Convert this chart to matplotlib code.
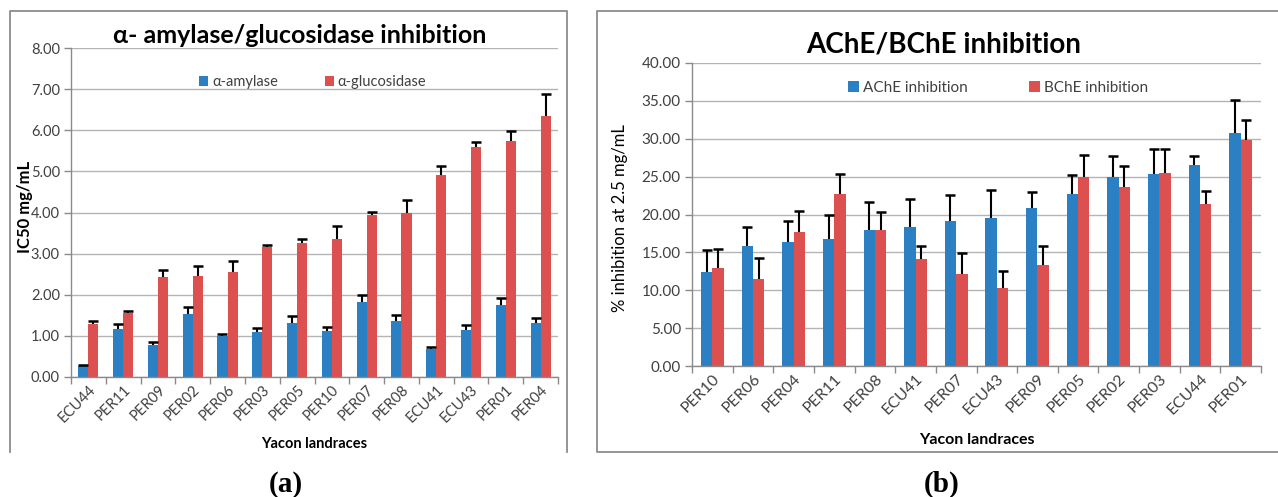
import matplotlib
matplotlib.use("Agg")
import matplotlib.pyplot as plt
import numpy as np
from matplotlib.lines import Line2D

plt.rcParams['font.family'] = ['Lato', 'DejaVu Sans']

# ---- panel (a): alpha-amylase / alpha-glucosidase IC50 ----
cats_a = ["ECU44", "PER11", "PER09", "PER02", "PER06", "PER03", "PER05",
          "PER10", "PER07", "PER08", "ECU41", "ECU43", "PER01", "PER04"]
amylase = [0.27, 1.17, 0.78, 1.53, 1.00, 1.10, 1.32, 1.12, 1.82, 1.37, 0.67, 1.14, 1.76, 1.32]
amylase_err = [0.02, 0.12, 0.08, 0.18, 0.05, 0.10, 0.16, 0.09, 0.17, 0.13, 0.06, 0.13, 0.16, 0.11]
glucosidase = [1.30, 1.55, 2.43, 2.45, 2.55, 3.16, 3.25, 3.35, 3.93, 3.99, 4.90, 5.60, 5.73, 6.35]
glucosidase_err = [0.06, 0.05, 0.18, 0.25, 0.27, 0.04, 0.11, 0.32, 0.09, 0.31, 0.24, 0.11, 0.26, 0.53]

# ---- panel (b): AChE / BChE inhibition ----
cats_b = ["PER10", "PER06", "PER04", "PER11", "PER08", "ECU41", "PER07",
          "ECU43", "PER09", "PER05", "PER02", "PER03", "ECU44", "PER01"]
ache = [12.4, 15.9, 16.4, 16.8, 18.0, 18.3, 19.2, 19.5, 20.9, 22.7, 25.0, 25.4, 26.5, 30.8]
ache_err = [2.9, 2.4, 2.7, 3.1, 3.7, 3.8, 3.4, 3.8, 2.1, 2.5, 2.7, 3.2, 1.2, 4.3]
bche = [13.0, 11.5, 17.7, 22.7, 18.0, 14.1, 12.1, 10.3, 13.3, 25.0, 23.6, 25.5, 21.4, 29.8]
bche_err = [2.5, 2.8, 2.8, 2.7, 2.3, 1.7, 2.8, 2.3, 2.5, 2.8, 2.8, 3.2, 1.7, 2.7]

BLUE = "#2a80c2"
RED = "#dd5050"
GRID = "#b4b4b4"
SPINE = "#8a8a8a"
TXT = "#404040"

W, H = 1278, 497
fig = plt.figure(figsize=(W / 100, H / 100), dpi=100)


def px_axes(left, top, right, bottom):
    return fig.add_axes([left / W, 1 - bottom / H, (right - left) / W, (bottom - top) / H])


def grouped(ax, cats, s1, e1, s2, e2, names, width, xtick_fs, ytick_fs, cap_ms):
    x = np.arange(len(cats))
    b1 = ax.bar(x - width / 2, s1, width, color=BLUE, label=names[0], zorder=2)
    b2 = ax.bar(x + width / 2, s2, width, color=RED, label=names[1], zorder=2)
    for xs, vals, errs in ((x - width / 2, s1, e1), (x + width / 2, s2, e2)):
        vals = np.asarray(vals)
        errs = np.asarray(errs)
        ax.vlines(xs, vals, vals + errs, color="black", lw=1.5, zorder=3)
        ax.plot(xs, vals + errs, ls="none", marker="_", ms=cap_ms, mew=1.8,
                color="black", zorder=3)
    ax.set_xlim(-0.5, len(cats) - 0.5)
    ax.set_xticks(x)
    ax.set_xticklabels(cats, rotation=45, ha="right", rotation_mode="anchor",
                       fontsize=xtick_fs, color=TXT)
    ax.set_xticks(np.arange(len(cats) + 1) - 0.5, minor=True)
    ax.tick_params(axis="x", which="major", length=0, pad=4)
    ax.tick_params(axis="x", which="minor", length=5, width=1, color=SPINE)
    ax.tick_params(axis="y", length=5, width=1, color=SPINE, labelsize=ytick_fs,
                   labelcolor=TXT, pad=3)
    ax.yaxis.set_major_formatter(matplotlib.ticker.FormatStrFormatter("%.2f"))
    ax.grid(axis="y", color=GRID, lw=1.0, zorder=0)
    ax.set_axisbelow(True)
    for s in ("top", "right"):
        ax.spines[s].set_visible(False)
    for s in ("left", "bottom"):
        ax.spines[s].set_color(SPINE)
        ax.spines[s].set_linewidth(1.0)
    return b1, b2


# panel (a)
ax1 = px_axes(71, 48, 558, 377)
grouped(ax1, cats_a, amylase, amylase_err, glucosidase, glucosidase_err,
        ["α-amylase", "α-glucosidase"], 0.29, 10.5, 10.5, 6.5)
ax1.set_ylim(0, 8)
ax1.set_yticks(np.arange(0, 8.01, 1))
ax1.set_xlabel("Yacon landraces", fontsize=10.5, fontweight="bold", color="black")
ax1.xaxis.set_label_coords(0.5, -0.182)
ax1.set_ylabel("IC50 mg/mL", fontsize=12, fontweight="bold", color="black")
ax1.yaxis.set_label_coords(-0.078, 0.517)
ax1.legend(loc="center left", bbox_to_anchor=(199 / W, 1 - 82 / H),
           bbox_transform=fig.transFigure, ncol=2, frameon=False, fontsize=10.5,
           borderpad=0, borderaxespad=0, handlelength=0.65, handleheight=0.65,
           handletextpad=0.25, columnspacing=3.2, labelcolor=TXT)
fig.text(300 / W, 1 - 43 / H, "α- amylase/glucosidase inhibition", ha="center",
         va="baseline", fontsize=18, fontweight="bold", color="black")

# panel (b)
ax2 = px_axes(692, 63, 1261, 366)
grouped(ax2, cats_b, ache, ache_err, bche, bche_err,
        ["AChE inhibition", "BChE inhibition"], 0.28, 11.5, 11, 7)
ax2.set_ylim(0, 40)
ax2.set_yticks(np.arange(0, 40.01, 5))
ax2.set_xlabel("Yacon landraces", fontsize=11.5, fontweight="bold", color="black")
ax2.xaxis.set_label_coords(0.5, -0.221)
ax2.set_ylabel("% inhibition at 2.5 mg/mL", fontsize=12, color="black")
ax2.yaxis.set_label_coords(-0.1125, 0.488)
ax2.legend(loc="center left", bbox_to_anchor=(848 / W, 1 - 88 / H),
           bbox_transform=fig.transFigure, ncol=2, frameon=False, fontsize=11,
           borderpad=0, borderaxespad=0, handlelength=0.72, handleheight=0.72,
           handletextpad=0.25, columnspacing=4.0, labelcolor=TXT)
fig.text(944 / W, 1 - 53 / H, "AChE/BChE inhibition", ha="center",
         va="baseline", fontsize=20, fontweight="bold", color="black")

# panel frames
frame_kw = dict(color="#8c8c8c", lw=1.3, transform=fig.transFigure)
fig.add_artist(Line2D([10 / W, 10 / W, 567 / W, 567 / W],
                      [1 - 452 / H, 1 - 11 / H, 1 - 11 / H, 1 - 452 / H], **frame_kw))
fig.add_artist(Line2D([1.0, 597 / W, 597 / W, 1.0],
                      [1 - 11 / H, 1 - 11 / H, 1 - 452 / H, 1 - 452 / H], **frame_kw))

# panel letters
for xc, letter in ((286, "(a)"), (942, "(b)")):
    fig.text(xc / W, 1 - 492 / H, letter, ha="center", va="baseline",
             fontsize=21, fontweight="bold", family="Liberation Serif", color="black")

fig.savefig("out.png", dpi=100)
